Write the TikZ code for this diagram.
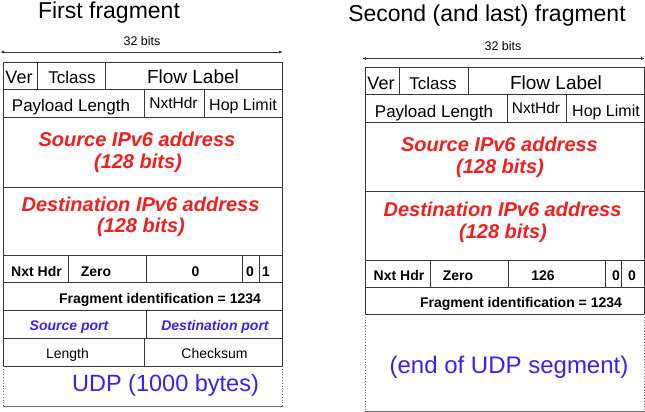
\documentclass[tikz,border=0pt]{standalone}
\usepackage{fontspec}
\setmainfont{Liberation Sans}
\usetikzlibrary{arrows.meta}
\definecolor{hdrred}{RGB}{245,30,30}
\definecolor{udpblue}{RGB}{60,30,250}
\definecolor{linegray}{RGB}{55,55,55}
\newcommand\fsz[1]{\fontsize{#1}{#1}\selectfont}
\begin{document}
\begin{tikzpicture}[x=1pt,y=-1pt,
  grid/.style={draw=linegray,line width=0.9pt},
  txt/.style={anchor=base,inner sep=0pt,text=black},
  red2/.style={anchor=base,inner sep=0pt,text=hdrred,font=\fsz{20}\bfseries\itshape},
  bold14/.style={anchor=base,inner sep=0pt,font=\fsz{14}\bfseries},
  blueport/.style={anchor=base,inner sep=0pt,text=udpblue,font=\fsz{14}\bfseries\itshape},
  widthar/.style={draw=linegray,line width=0.8pt,{Latex[length=4pt,width=3pt]}-{Latex[length=4pt,width=3pt]}},
  dotline/.style={draw=black!55,line width=0.8pt,dotted},
  softline/.style={draw=black!55,line width=0.9pt}]
\useasboundingbox (0,0) rectangle (645,412);

% ===== Titles and width arrows =====
\node[txt,font=\fsz{23}] (t1) at (109,18.5) {First fragment};
\node[txt,font=\fsz{23}] (t2) at (487,22) {Second (and last) fragment};
\coordinate (a1l) at (0,52); \coordinate (a1r) at (283,52);
\draw[widthar] (a1l) -- (a1r);
\node[txt,font=\fsz{12.5}] (b1) at (142,46) {32 bits};
\coordinate (a2l) at (362,58.5); \coordinate (a2r) at (645,58.5);
\draw[widthar] (a2l) -- (a2r);
\node[txt,font=\fsz{12.5}] (b2) at (503,51) {32 bits};

% ===== Left packet =====
\draw[grid] (3,62) rectangle (282,366);
\foreach \y in {89,117,187,255,282,310,338} \draw[grid] (3,\y) -- (282,\y);
\draw[grid] (37,62) -- (37,89); \draw[grid] (105,62) -- (105,89);
\draw[grid] (144,89) -- (144,117); \draw[grid] (204,89) -- (204,117);
\draw[grid] (68,255) -- (68,282); \draw[grid] (146,255) -- (146,282);
\draw[grid] (242,255) -- (242,282); \draw[grid] (259,255) -- (259,282);
\draw[grid] (146,310) -- (146,338); \draw[grid] (144,338) -- (144,366);
\draw[dotline] (3,366) -- (3,406); \draw[dotline] (282,366) -- (282,406);
\draw[softline] (3,406) -- (283,406);

\node[txt,font=\fsz{18}] (lver) at (19,83) {Ver};
\node[txt,font=\fsz{17}] (ltc) at (72,83) {Tclass};
\node[txt,font=\fsz{19}] (lfl) at (193,83) {Flow Label};
\node[txt,font=\fsz{17}] (lpl) at (71,111.5) {Payload Length};
\node[txt,font=\fsz{15.5}] (lnh) at (173.5,108.5) {NxtHdr};
\node[txt,font=\fsz{16}] (lhl) at (243,110) {Hop Limit};
\node[red2] (lsrc1) at (137,146) {Source IPv6 address};
\node[red2] (lsrc2) at (138,168) {(128 bits)};
\node[red2] (ldst1) at (140.5,211.5) {Destination IPv6 address};
\node[red2] (ldst2) at (141,232.5) {(128 bits)};
\node[bold14] (lnx) at (36.5,276) {Nxt Hdr};
\node[bold14] (lz) at (96,276) {Zero};
\node[bold14] (lo) at (195.5,276) {0};
\node[bold14] (lm) at (250,276) {0};
\node[bold14] (lf) at (266,276) {1};
\node[bold14] (lid) at (160,303.5) {Fragment identification = 1234};
\node[blueport] (lsp) at (69,330) {Source port};
\node[blueport] (ldp) at (215,330) {Destination port};
\node[txt,font=\fsz{14}] (llen) at (67.5,358) {Length};
\node[txt,font=\fsz{14}] (lck) at (214.5,358) {Checksum};
\node[txt,font=\fsz{23.5},text=udpblue] (ludp) at (165.5,391.5) {UDP (1000 bytes)};

% ===== Right packet =====
\draw[grid] (365,67) rectangle (644,314);
\foreach \y in {94,122,191,260,287} \draw[grid] (365,\y) -- (644,\y);
\draw[grid] (399,67) -- (399,94); \draw[grid] (468,67) -- (468,94);
\draw[grid] (507,94) -- (507,122); \draw[grid] (566,94) -- (566,122);
\draw[grid] (430,260) -- (430,287); \draw[grid] (508,260) -- (508,287);
\draw[grid] (605,260) -- (605,287); \draw[grid] (621,260) -- (621,287);
\draw[dotline] (365,314) -- (365,411); \draw[dotline] (644,314) -- (644,411);
\draw[softline] (365,411) -- (645,411);

\node[txt,font=\fsz{18}] (rver) at (381,89) {Ver};
\node[txt,font=\fsz{17}] (rtc) at (433,89) {Tclass};
\node[txt,font=\fsz{19}] (rfl) at (556,89) {Flow Label};
\node[txt,font=\fsz{17}] (rpl) at (434,117.5) {Payload Length};
\node[txt,font=\fsz{15.5}] (rnh) at (536,113.5) {NxtHdr};
\node[txt,font=\fsz{16}] (rhl) at (606,116) {Hop Limit};
\node[red2] (rsrc1) at (499.5,151.5) {Source IPv6 address};
\node[red2] (rsrc2) at (500,173) {(128 bits)};
\node[red2] (rdst1) at (502.5,216.5) {Destination IPv6 address};
\node[red2] (rdst2) at (503,238) {(128 bits)};
\node[bold14] (rnx) at (399,280) {Nxt Hdr};
\node[bold14] (rz) at (458,280) {Zero};
\node[bold14] (ro) at (543,280) {126};
\node[bold14] (rm) at (616,280) {0};
\node[bold14] (rf) at (632,280) {0};
\node[bold14] (rid) at (521,307) {Fragment identification = 1234};
\node[txt,font=\fsz{24},text=udpblue] (rend) at (509,373) {(end of UDP segment)};
\end{tikzpicture}
\end{document}
